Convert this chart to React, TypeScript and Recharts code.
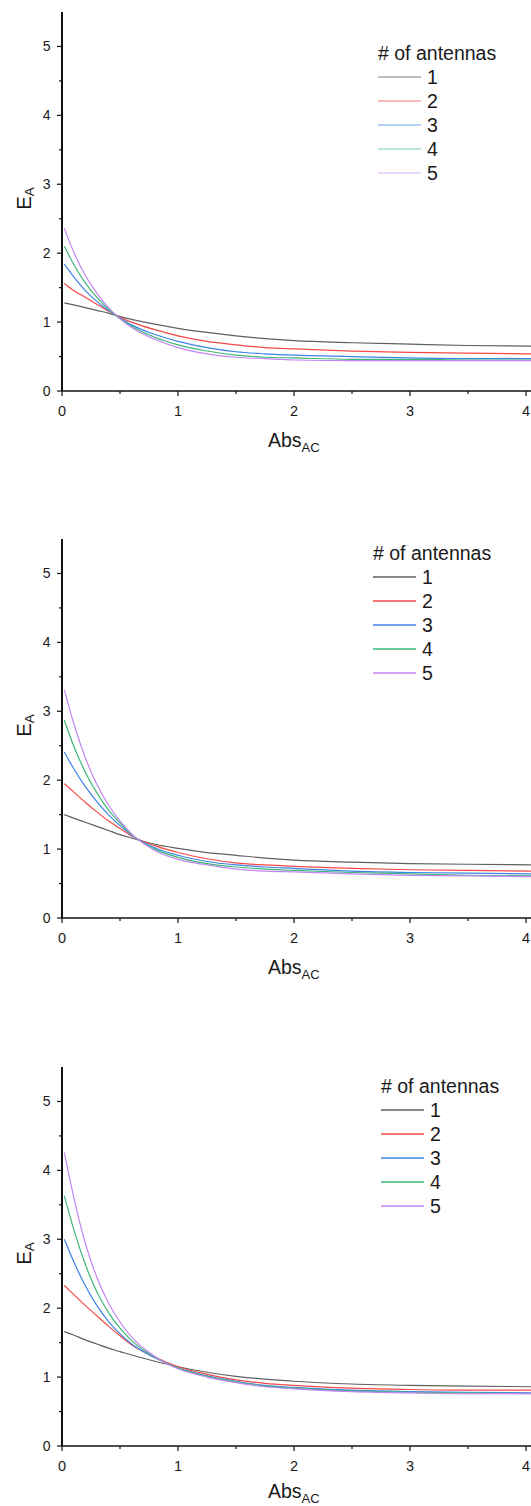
import React from 'react';
import { LineChart, Line, XAxis, YAxis, Legend } from 'recharts';

// ---------- data ----------
const ABS = [0.02, 0.1, 0.2, 0.3, 0.4, 0.5, 0.6, 0.8, 1.0, 1.25, 1.5, 1.75, 2.0, 2.5, 3.0, 3.5, 4.05];
const SERIES_NAMES = ['1', '2', '3', '4', '5'];
const COLORS = ['#606060', '#f44848', '#3f82e6', '#3db679', '#c485f2'];
const PALE_COLORS = ['#a8a8a8', '#f9a0a0', '#9cc0f2', '#a6e0c2', '#e4c8f8'];
const X_TICKS = [0, 0.5, 1, 1.5, 2, 2.5, 3, 3.5, 4];
const Y_TICKS = [0, 0.5, 1, 1.5, 2, 2.5, 3, 3.5, 4, 4.5, 5];
const LEGEND_TITLE = '# of antennas';
const X_TITLE = 'Abs';
const X_SUB = 'AC';
const Y_TITLE = 'E';
const Y_SUB = 'A';

// panel 1
const P1_N1 = [1.28, 1.25, 1.21, 1.17, 1.13, 1.08, 1.04, 0.97, 0.91, 0.85, 0.80, 0.76, 0.73, 0.70, 0.68, 0.66, 0.65];
const P1_N2 = [1.56, 1.46, 1.36, 1.26, 1.16, 1.07, 1.00, 0.89, 0.80, 0.72, 0.67, 0.63, 0.61, 0.58, 0.56, 0.55, 0.54];
const P1_N3 = [1.84, 1.66, 1.46, 1.30, 1.17, 1.06, 0.96, 0.82, 0.72, 0.63, 0.57, 0.54, 0.52, 0.50, 0.48, 0.47, 0.47];
const P1_N4 = [2.10, 1.84, 1.57, 1.36, 1.19, 1.05, 0.94, 0.78, 0.67, 0.58, 0.52, 0.49, 0.48, 0.46, 0.46, 0.45, 0.45];
const P1_N5 = [2.36, 2.02, 1.68, 1.42, 1.21, 1.05, 0.92, 0.75, 0.63, 0.54, 0.49, 0.47, 0.45, 0.44, 0.44, 0.44, 0.44];

// panel 2
const P2_N1 = [1.50, 1.45, 1.39, 1.33, 1.27, 1.21, 1.16, 1.07, 1.01, 0.95, 0.91, 0.87, 0.84, 0.81, 0.79, 0.78, 0.77];
const P2_N2 = [1.95, 1.83, 1.68, 1.54, 1.41, 1.30, 1.19, 1.05, 0.95, 0.86, 0.80, 0.77, 0.75, 0.72, 0.70, 0.69, 0.68];
const P2_N3 = [2.41, 2.17, 1.91, 1.69, 1.50, 1.34, 1.20, 1.02, 0.91, 0.82, 0.77, 0.74, 0.72, 0.68, 0.66, 0.65, 0.64];
const P2_N4 = [2.87, 2.50, 2.12, 1.82, 1.57, 1.38, 1.21, 1.00, 0.88, 0.79, 0.74, 0.71, 0.69, 0.66, 0.64, 0.62, 0.61];
const P2_N5 = [3.31, 2.83, 2.33, 1.94, 1.64, 1.41, 1.22, 0.98, 0.85, 0.77, 0.71, 0.68, 0.67, 0.64, 0.62, 0.61, 0.60];

// panel 3
const P3_N1 = [1.66, 1.61, 1.54, 1.48, 1.42, 1.37, 1.32, 1.23, 1.15, 1.07, 1.01, 0.97, 0.94, 0.90, 0.88, 0.87, 0.86];
const P3_N2 = [2.33, 2.20, 2.04, 1.89, 1.74, 1.60, 1.47, 1.29, 1.15, 1.04, 0.96, 0.91, 0.88, 0.84, 0.82, 0.81, 0.81];
const P3_N3 = [3.00, 2.68, 2.33, 2.04, 1.81, 1.63, 1.48, 1.28, 1.13, 1.02, 0.94, 0.88, 0.85, 0.81, 0.79, 0.78, 0.77];
const P3_N4 = [3.63, 3.15, 2.64, 2.24, 1.94, 1.71, 1.53, 1.29, 1.13, 1.01, 0.93, 0.87, 0.84, 0.80, 0.78, 0.77, 0.76];
const P3_N5 = [4.26, 3.62, 2.95, 2.45, 2.08, 1.80, 1.58, 1.30, 1.12, 1.00, 0.92, 0.86, 0.83, 0.79, 0.77, 0.76, 0.76];

const PANEL_SERIES = [
  [P1_N1, P1_N2, P1_N3, P1_N4, P1_N5],
  [P2_N1, P2_N2, P2_N3, P2_N4, P2_N5],
  [P3_N1, P3_N2, P3_N3, P3_N4, P3_N5],
];

// ---------- layout ----------
const FONT = 'Arial, "Liberation Sans", Helvetica, sans-serif';
const PANEL_TOPS = [0, 527, 1055];
const LEGEND_POS = [
  { left: 378, top: 41 },
  { left: 373, top: 14 },
  { left: 381, top: 19 },
];
const LEGEND_PALETTES = [PALE_COLORS, COLORS, COLORS];
const X_TITLE_SHIFT = [0, 0, -4];

function buildRows(series: number[][]) {
  return ABS.map((x, i) => {
    const r: any = { x };
    series.forEach((s, j) => {
      r['n' + (j + 1)] = s[i];
    });
    return r;
  });
}

const YTick = (props: any) => {
  const { x, y, payload } = props;
  const v = payload.value;
  const major = Number.isInteger(v);
  return (
    <g>
      <line x1={x} x2={x - (major ? 5 : 3)} y1={y} y2={y} stroke="#111" strokeWidth={1.2} />
      {major && (
        <text x={x - 11.5} y={y} dy={5} textAnchor="end" fontSize={14} fontFamily={FONT} fill="#1a1a1a">
          {v}
        </text>
      )}
    </g>
  );
};

const XTick = (props: any) => {
  const { x, y, payload } = props;
  const v = payload.value;
  const major = Number.isInteger(v);
  return (
    <g>
      <line x1={x} x2={x} y1={y} y2={y + (major ? 5 : 3)} stroke="#111" strokeWidth={1.2} />
      {major && (
        <text x={x} y={y + 25} textAnchor="middle" fontSize={14.5} fontFamily={FONT} fill="#1a1a1a">
          {v}
        </text>
      )}
    </g>
  );
};

const makeXTitle = (shift: number) => (props: any) => {
  const vb = props.viewBox || { x: 62, y: 391, width: 469, height: 60 };
  return (
    <text x={268} y={vb.y + 56 + shift} fontSize={19.5} fontFamily={FONT} fill="#1a1a1a">
      {X_TITLE}
      <tspan fontSize={13} dy={5}>{X_SUB}</tspan>
    </text>
  );
};

const YTitle = (props: any) => {
  const vb = props.viewBox || { x: 0, y: 12, width: 62, height: 379 };
  const cy = vb.y + vb.height / 2 - 3;
  const cx = 31;
  return (
    <text
      transform={`rotate(-90 ${cx} ${cy})`}
      x={cx}
      y={cy}
      textAnchor="middle"
      fontSize={20.5}
      fontFamily={FONT}
      fill="#1a1a1a"
    >
      {Y_TITLE}
      <tspan fontSize={13.5} dy={3}>{Y_SUB}</tspan>
    </text>
  );
};

const makeLegend = (palette: string[]) => () => {
  return (
    <div style={{ fontFamily: FONT, color: '#1a1a1a', fontSize: 19.5, lineHeight: '24px', whiteSpace: 'nowrap' }}>
      <div style={{ height: 24 }}>{LEGEND_TITLE}</div>
      {SERIES_NAMES.map((n, j) => (
        <div key={n} style={{ display: 'flex', alignItems: 'center', height: 24 }}>
          <svg width={43} height={6} style={{ display: 'block' }}>
            <line x1={0} x2={43} y1={3} y2={3} stroke={palette[j]} strokeWidth={1.6} />
          </svg>
          <span style={{ marginLeft: 6 }}>{n}</span>
        </div>
      ))}
    </div>
  );
};

function Panel({ index }: { index: number }) {
  const rows = buildRows(PANEL_SERIES[index]);
  const XT = makeXTitle(X_TITLE_SHIFT[index]);
  return (
    <LineChart width={531} height={527} data={rows} margin={{ top: 12, right: 0, bottom: 76, left: 0 }}>
      <XAxis
        dataKey="x"
        type="number"
        domain={[0, 4.043]}
        allowDataOverflow
        ticks={X_TICKS}
        interval={0}
        tick={<XTick />}
        tickLine={false}
        tickSize={0}
        tickMargin={0}
        height={60}
        axisLine={{ stroke: '#111', strokeWidth: 1.5 }}
        label={{ content: (p: any) => <XT {...p} /> }}
      />
      <YAxis
        type="number"
        domain={[0, 5.5]}
        allowDataOverflow
        ticks={Y_TICKS}
        interval={0}
        tick={<YTick />}
        tickLine={false}
        tickSize={0}
        tickMargin={0}
        width={62}
        axisLine={{ stroke: '#111', strokeWidth: 2 }}
        label={{ content: (p: any) => <YTitle {...p} /> }}
      />
      <Legend
        layout="horizontal"
        verticalAlign="middle"
        align="center"
        wrapperStyle={{ left: LEGEND_POS[index].left, top: LEGEND_POS[index].top, width: 140 }}
        content={makeLegend(LEGEND_PALETTES[index])}
      />
      {SERIES_NAMES.map((n, j) => (
        <Line
          key={n}
          name={n}
          dataKey={'n' + (j + 1)}
          type="monotone"
          stroke={COLORS[j]}
          strokeWidth={1.2}
          dot={false}
          activeDot={false}
          isAnimationActive={false}
        />
      ))}
    </LineChart>
  );
}

export default function App() {
  return (
    <div
      style={{
        position: 'absolute',
        left: 0,
        top: 0,
        width: 531,
        height: 1506,
        background: '#fff',
        overflow: 'hidden',
      }}
    >
      {PANEL_TOPS.map((t, i) => (
        <div key={i} style={{ position: 'absolute', left: 0, top: t, width: 531, height: 527 }}>
          <Panel index={i} />
        </div>
      ))}
    </div>
  );
}
